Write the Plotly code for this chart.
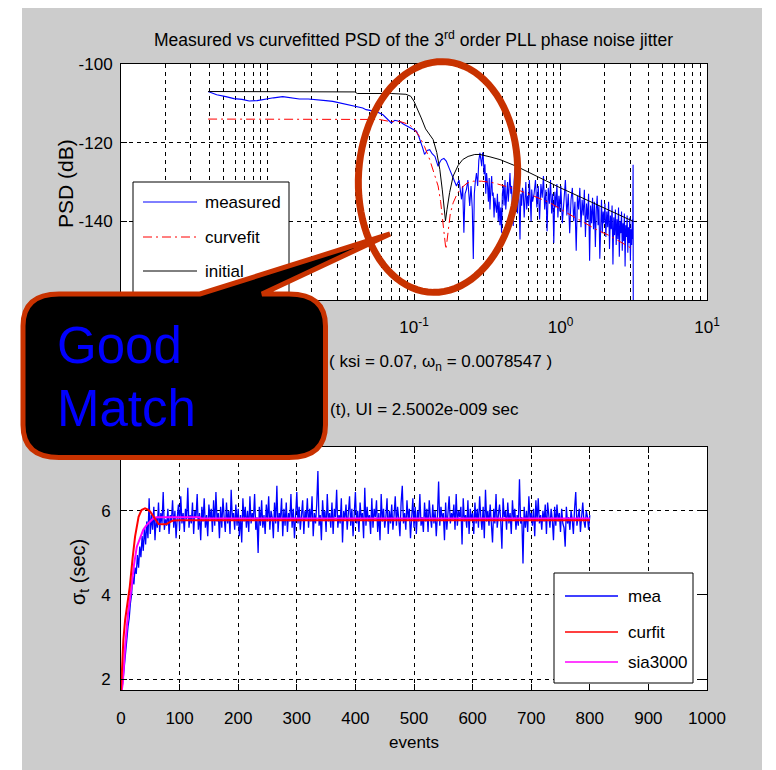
import math
import plotly.graph_objects as go

W, H = 776, 770          # reference canvas size
OX, OY = 8, 8            # page body margin offset
FW, FH = W - OX, H - OY  # figure size that fits the window
FONT = "Liberation Sans, Arial, sans-serif"
BIG = "Liberation Sans, Arial, sans-serif"

# ---------------- PSD (top plot) data ----------------
f_low = [0.00393, 0.0045, 0.0052, 0.0059, 0.0067, 0.0075, 0.0085, 0.0097, 0.011, 0.0127,
         0.0145, 0.0165, 0.019, 0.0215, 0.025, 0.0279, 0.032, 0.0363, 0.041, 0.0447,
         0.0471, 0.0552, 0.0614, 0.0647, 0.07, 0.074, 0.08, 0.085, 0.091, 0.097,
         0.104, 0.108]
psd_low = [-107.0, -107.8, -108.3, -108.8, -109.0, -109.4, -109.3, -108.9, -108.6, -108.3,
           -108.6, -108.9, -108.9, -109.0, -109.3, -109.5, -110.0, -110.4, -110.9, -111.2,
           -111.6, -112.1, -112.9, -113.7, -115.0, -114.3, -114.6, -115.3, -115.9, -116.3,
           -117.1, -118.5]

f_mid = [0.112, 0.115, 0.118, 0.123, 0.128, 0.133, 0.139, 0.146, 0.15, 0.154,
         0.16, 0.166, 0.175, 0.185, 0.195, 0.203, 0.211, 0.215, 0.219, 0.223,
         0.228, 0.233, 0.24, 0.245, 0.25, 0.254, 0.258, 0.262, 0.267, 0.272,
         0.277, 0.282, 0.286, 0.29, 0.294, 0.297, 0.301, 0.305, 0.309, 0.313,
         0.318, 0.322, 0.326, 0.33, 0.335, 0.339, 0.343, 0.347, 0.352, 0.356,
         0.361, 0.366, 0.371, 0.376, 0.381, 0.386, 0.391, 0.396, 0.401, 0.407,
         0.412, 0.418, 0.423, 0.429, 0.435, 0.44, 0.446, 0.452, 0.458, 0.464,
         0.47, 0.476, 0.482, 0.489, 0.495, 0.502, 0.508, 0.515, 0.522, 0.529,
         0.536, 0.543, 0.55, 0.557, 0.565, 0.572, 0.58, 0.588, 0.596, 0.605,
         0.613, 0.622, 0.63, 0.636, 0.645]
psd_mid = [-120.1, -121.5, -123.0, -122.0, -121.8, -122.8, -123.5, -126.0, -125.0, -124.3,
           -124.0, -124.7, -126.8, -129.0, -131.0, -129.5, -134.4, -131.0, -142.9, -133.0,
           -131.9, -129.5, -136.1, -131.0, -137.0, -149.6, -133.0, -130.0, -127.7, -131.0,
           -124.5, -122.6, -125.0, -126.0, -122.5, -123.5, -128.0, -125.5, -133.0, -127.7,
           -131.0, -135.0, -129.0, -137.0, -131.5, -128.5, -133.5, -132.7, -139.0, -134.0,
           -136.0, -137.8, -133.0, -140.0, -135.0, -141.0, -136.5, -142.9, -133.0, -131.0,
           -136.0, -129.5, -137.0, -134.4, -130.0, -135.0, -129.0, -127.7, -133.0, -131.0,
           -137.5, -141.2, -130.0, -126.5, -133.5, -131.0, -138.0, -129.5, -135.5, -144.6,
           -133.0, -136.0, -131.5, -132.7, -139.0, -134.0, -130.0, -137.0, -133.5, -136.1,
           -129.5, -134.5, -140.0, -131.9, -135.0]

f_high = [0.66, 0.675, 0.69, 0.705, 0.72, 0.735, 0.75, 0.765, 0.78, 0.795,
          0.81, 0.825, 0.84, 0.855, 0.87, 0.885, 0.9, 0.915, 0.93, 0.945,
          0.96, 0.975, 0.99,
          1.005, 1.03, 1.055, 1.08, 1.105, 1.13, 1.155, 1.18, 1.205, 1.23,
          1.255, 1.28, 1.305, 1.33, 1.355, 1.38, 1.405, 1.43, 1.455, 1.48,
          1.505, 1.53, 1.555, 1.58, 1.605, 1.63, 1.655, 1.68, 1.705, 1.73,
          1.755, 1.78, 1.805, 1.83, 1.855, 1.88, 1.905, 1.93, 1.955, 1.98,
          2.01, 2.04, 2.07, 2.1, 2.13, 2.16, 2.19, 2.22, 2.25, 2.28,
          2.31, 2.34, 2.37, 2.4, 2.43, 2.46, 2.49, 2.52, 2.55, 2.58,
          2.61, 2.64, 2.67, 2.7, 2.73, 2.76, 2.79, 2.82, 2.85, 2.88,
          2.91, 2.94, 2.97, 3.0, 3.03, 3.06, 3.09, 3.11, 3.13, 3.14]
psd_high = [-133.0, -129.5, -136.5, -131.0, -139.5, -130.5, -134.0, -128.5, -137.0, -132.0,
            -142.5, -131.5, -135.5, -129.5, -138.0, -133.0, -145.5, -132.5, -136.5, -130.5,
            -139.0, -133.5, -137.5,
            -131.0, -140.5, -134.0, -129.5, -138.5, -133.0, -143.0, -134.5, -131.5, -140.0,
            -135.0, -147.5, -133.5, -137.0, -131.5, -141.5, -134.5, -138.5, -132.0, -144.0,
            -135.5, -139.5, -133.0, -150.0, -136.0, -140.5, -134.0, -142.0, -135.0, -146.5,
            -137.0, -133.5, -141.0, -136.0, -149.5, -138.0, -134.5, -143.0, -137.5, -140.5,
            -135.5, -144.0, -137.5, -141.5, -135.0, -147.0, -138.5, -142.0, -136.0, -151.0,
            -139.0, -143.5, -137.0, -146.0, -139.5, -144.5, -136.5, -149.0, -140.0, -143.0,
            -137.5, -147.5, -140.5, -145.0, -138.0, -151.5, -141.0, -144.0, -138.5, -148.0,
            -141.5, -145.5, -139.0, -150.0, -142.0, -146.0, -139.5, -144.5, -125.6, -175.0]

f_meas = f_low + f_mid + f_high
psd_meas = psd_low + psd_mid + psd_high

f_fit = [0.00393, 0.01, 0.03, 0.058, 0.068, 0.08, 0.093, 0.1, 0.109, 0.118,
         0.128, 0.137, 0.146, 0.152, 0.158, 0.162, 0.165, 0.168, 0.171, 0.177,
         0.185, 0.197, 0.211, 0.23, 0.254, 0.29, 0.348, 0.42, 0.502, 0.65,
         0.85, 1.1, 1.43, 1.8, 2.18, 2.6, 3.13]
psd_fit = [-114.0, -114.0, -114.0, -114.1, -114.6, -114.6, -115.4, -116.5, -118.4, -121.0,
           -124.3, -127.5, -131.0, -135.0, -140.3, -144.0, -147.1, -145.0, -142.0, -138.0,
           -135.3, -133.0, -131.5, -130.3, -129.8, -129.8, -130.2, -131.0, -131.9, -133.5,
           -135.3, -137.8, -140.3, -142.3, -143.7, -145.3, -147.1]

f_init = [0.00393, 0.01, 0.02, 0.0395, 0.041, 0.07, 0.088, 0.095, 0.1, 0.106,
          0.112, 0.12, 0.128, 0.135, 0.143, 0.15, 0.156, 0.161, 0.164, 0.168,
          0.175, 0.185, 0.2, 0.215, 0.234, 0.26, 0.282, 0.33, 0.386, 0.5,
          0.62, 0.8, 1.0, 1.4, 1.87, 2.5, 3.13]
psd_init = [-107.0, -107.1, -107.1, -107.1, -107.5, -107.5, -107.7, -108.2, -109.5, -111.5,
            -113.7, -116.5, -118.0, -119.2, -122.5, -126.8, -132.0, -137.0, -139.9, -137.0,
            -132.7, -128.5, -125.8, -124.3, -123.5, -123.0, -123.0, -123.6, -124.3, -126.0,
            -127.7, -129.8, -131.5, -134.0, -136.1, -138.3, -140.0]

# ---------------- sigma_t (bottom plot) data, one value every 2 events ----------------
sig_mea = [1.70, 1.80, 2.05, 2.30, 2.60, 2.95, 3.25, 3.45, 3.80, 4.00, 4.45, 4.25, 4.65, 4.50, 4.95, 4.65, 5.15, 4.90, 5.40, 5.05,
           5.60, 5.20, 5.75, 5.35, 6.30, 5.45, 5.90, 5.55, 6.10, 5.30, 5.85, 5.60, 6.20, 5.50, 5.95, 5.70, 6.45, 5.55, 5.80, 5.65,
           6.05, 5.45, 5.90, 5.75, 6.25, 5.60, 6.00, 5.35, 5.85, 6.15, 5.55, 6.35, 5.70, 5.95, 5.50, 6.05, 5.80, 6.55, 5.60, 5.90,
           5.70, 6.20, 5.45, 6.00, 5.85, 6.40, 5.55, 5.95, 5.30, 6.10, 5.75, 6.30, 5.60, 5.90, 5.40, 6.15, 5.80, 6.05, 5.50, 6.25,
           5.65, 6.45, 5.75, 5.95, 5.35, 6.10, 5.60, 6.30, 5.85, 5.50, 6.20, 5.70, 6.00, 5.45, 6.50, 5.80, 5.95, 5.55, 6.15, 5.65,
           6.05, 5.40, 5.90, 5.25, 6.30, 5.75, 6.10, 5.60, 6.00, 5.50, 6.35, 5.70, 5.95, 5.80, 6.40, 5.55, 5.85, 5.00, 6.10, 5.65,
           6.25, 5.60, 5.90, 5.45, 6.15, 5.75, 6.35, 5.55, 6.00, 5.85, 5.35, 6.20, 5.70, 6.60, 5.50, 5.95, 5.80, 6.30, 5.40, 6.05,
           5.65, 6.20, 5.50, 5.95, 5.75, 6.40, 5.60, 6.05, 5.35, 5.90, 6.45, 5.70, 6.10, 5.55, 5.85, 6.25, 5.45, 6.00, 5.80, 6.30,
           5.60, 6.05, 5.75, 6.35, 5.40, 5.95, 5.70, 6.15, 6.95, 5.65, 5.90, 5.30, 6.25, 5.80, 6.00, 5.50, 6.40, 5.75, 5.95, 5.60,
           6.20, 5.45, 6.05, 5.85, 6.50, 5.60, 5.90, 5.70, 6.30, 5.25, 6.00, 5.80, 6.15, 5.55, 5.95, 6.35, 5.65, 6.05, 5.40, 5.85,
           6.45, 5.70, 6.00, 5.50, 6.20, 5.80, 5.95, 5.35, 6.55, 5.65, 6.10, 5.75, 5.90, 5.45, 6.30, 5.60, 6.05, 5.85, 6.25, 5.50,
           5.95, 5.30, 6.40, 5.75, 6.05, 5.60, 5.85, 6.30, 5.45, 6.00, 5.70, 6.15, 5.55, 5.90, 6.35, 5.65, 6.10, 5.80, 5.40, 6.20,
           6.60, 5.70, 5.95, 5.55, 6.25, 5.80, 6.05, 5.35, 5.90, 6.30, 5.60, 6.10, 5.45, 6.00, 5.75, 6.40, 5.65, 5.85, 5.50, 6.20,
           5.75, 6.05, 5.50, 6.25, 5.85, 5.60, 6.15, 5.70, 6.00, 5.40, 5.90, 6.70, 5.65, 6.10, 5.80, 5.95, 5.30, 6.20, 5.55, 6.05,
           6.35, 5.70, 5.95, 5.80, 6.15, 5.55, 6.40, 5.65, 6.00, 5.85, 6.10, 5.20, 6.30, 5.75, 5.90, 5.60, 6.25, 5.45, 6.05, 5.80,
           5.95, 5.45, 6.20, 5.70, 6.05, 5.60, 6.35, 5.85, 5.55, 6.10, 5.35, 6.50, 5.75, 6.00, 5.65, 6.15, 5.80, 5.25, 6.05, 5.70,
           6.40, 5.60, 5.90, 6.15, 5.75, 5.10, 6.30, 5.85, 6.00, 5.55, 6.20, 5.70, 5.95, 5.45, 6.25, 5.80, 6.05, 5.55, 5.90, 5.65,
           6.75, 5.70, 5.85, 4.75, 6.10, 5.60, 6.00, 5.50, 6.35, 5.80, 5.95, 5.65, 6.05, 5.40, 6.25, 5.75, 6.30, 5.70, 5.90, 5.55,
           6.00, 5.75, 6.15, 5.45, 6.20, 5.85, 5.60, 6.05, 5.80, 5.30, 6.10, 5.65, 6.15, 5.75, 5.95, 5.50, 6.05, 5.70, 5.60, 5.15,
           6.10, 5.70, 5.85, 5.55, 6.00, 5.80, 5.45, 6.05, 6.45, 5.65, 5.90, 6.05, 5.50, 5.95, 6.20, 5.75, 5.60, 6.00, 5.85, 5.55,
           5.90]
ev_mea = list(range(0, 2 * len(sig_mea), 2))

ev_fit = [0, 2, 4, 7, 10, 15, 20, 24, 30, 35, 41, 46, 50, 55, 58, 64, 72, 78, 84, 89, 100, 400, 800]
sig_fit = [1.70, 2.30, 2.93, 3.40, 3.72, 4.20, 4.90, 5.39, 5.86, 6.02, 6.06, 6.03, 5.98, 5.87,
           5.79, 5.69, 5.68, 5.69, 5.74, 5.77, 5.78, 5.78, 5.78]

ev_sia = [0, 3, 7, 12, 18, 22, 27, 32, 38, 44, 50, 55, 60, 135, 136, 800]
sig_sia = [1.60, 1.90, 2.77, 3.56, 4.20, 4.70, 5.15, 5.35, 5.55, 5.67, 5.75, 5.82, 5.85, 5.85,
           5.82, 5.82]

top_ticks = [0.001, 0.01, 0.1, 1, 10]
top_ticktext = ["", "10<sup>-2</sup>", "10<sup>-1</sup>", "10<sup>0</sup>", "10<sup>1</sup>"]
top_minor = [m * 10 ** e for e in range(-3, 1) for m in range(2, 10)]
psd_ticks = [-160, -140, -120, -100]
psd_ticktext = ["-160", "-140", "-120", "-100"]
ev_ticks = list(range(0, 1001, 100))
sig_ticks = [2, 4, 6]


def px(x):
    return (x - OX) / FW


def py(y):
    return 1 - (y - OY) / FH


def P(x, y):
    return f"{px(x):.5f},{py(y):.5f}"


fig = go.Figure()
fig.add_trace(go.Scatter(x=f_meas, y=psd_meas, mode="lines", line=dict(color="#0000FF", width=1.1),
                         xaxis="x", yaxis="y", showlegend=False))
fig.add_trace(go.Scatter(x=f_fit, y=psd_fit, mode="lines",
                         line=dict(color="#FF0000", width=1, dash="9px,4px,2px,4px"),
                         xaxis="x", yaxis="y", showlegend=False))
fig.add_trace(go.Scatter(x=f_init, y=psd_init, mode="lines", line=dict(color="#000000", width=1),
                         xaxis="x", yaxis="y", showlegend=False))

fig.add_trace(go.Scatter(x=ev_mea, y=sig_mea, mode="lines", line=dict(color="#0000FF", width=1.3),
                         xaxis="x2", yaxis="y2", showlegend=False))
fig.add_trace(go.Scatter(x=ev_sia, y=sig_sia, mode="lines", line=dict(color="#FF00FF", width=2),
                         xaxis="x2", yaxis="y2", showlegend=False))
fig.add_trace(go.Scatter(x=ev_fit, y=sig_fit, mode="lines", line=dict(color="#FF0000", width=2),
                         xaxis="x2", yaxis="y2", showlegend=False))

GRID = "4px,4px"
axis_common = dict(showline=True, linecolor="black", linewidth=1, mirror="ticks",
                   ticks="inside", ticklen=6, tickcolor="black", showgrid=True,
                   gridcolor="black", griddash=GRID, gridwidth=1, zeroline=False,
                   automargin=False,
                   tickfont=dict(family=FONT, size=17, color="black"))

fig.update_layout(
    width=FW, height=FH, margin=dict(l=0, r=0, t=0, b=0, pad=0, autoexpand=False),
    paper_bgcolor="#CCCCCC", plot_bgcolor="white",
    xaxis=dict(type="log", range=[-3, 1], domain=[px(121), px(707)], anchor="y",
               tickmode="array", tickvals=top_ticks, ticktext=top_ticktext,
               ticklabelstandoff=12,
               minor=dict(tickmode="array", tickvals=top_minor, ticks="inside", ticklen=4,
                          tickcolor="black", showgrid=True, gridcolor="black",
                          griddash=GRID, gridwidth=1),
               **axis_common),
    yaxis=dict(range=[-160, -100], domain=[py(300), py(64)], anchor="x",
               tickmode="array", tickvals=psd_ticks, ticktext=psd_ticktext,
               ticklabelstandoff=4, **axis_common),
    xaxis2=dict(range=[0, 1000], domain=[px(121), px(707)], anchor="y2",
                tickmode="array", tickvals=ev_ticks, ticklabelstandoff=13, **axis_common),
    yaxis2=dict(range=[1.74, 7.52], domain=[py(690), py(447)], anchor="x2",
                tickmode="array", tickvals=sig_ticks, ticklabelstandoff=6, **axis_common),
)

shapes = []
# white outer frame strips
for x0, y0, x1, y1 in [(0, 0, 22, 770), (0, 0, 776, 5), (762, 0, 776, 770)]:
    shapes.append(dict(type="rect", xref="paper", yref="paper", x0=px(x0), y0=py(y1),
                       x1=px(x1), y1=py(y0), fillcolor="white", line=dict(width=0), layer="below"))

# top legend
shapes.append(dict(type="rect", xref="paper", yref="paper", x0=px(133), y0=py(312), x1=px(289),
                   y1=py(182), fillcolor="white", line=dict(color="black", width=1), layer="above"))
for yy, col, dash in [(202, "#0000FF", "solid"), (237, "#FF0000", "9px,4px,2px,4px"), (271, "black", "solid")]:
    shapes.append(dict(type="line", xref="paper", yref="paper", x0=px(143), x1=px(197), y0=py(yy),
                       y1=py(yy), line=dict(color=col, width=1, dash=dash), layer="above"))

# bottom legend
shapes.append(dict(type="rect", xref="paper", yref="paper", x0=px(554), y0=py(683), x1=px(693),
                   y1=py(573), fillcolor="white", line=dict(color="black", width=1), layer="above"))
for yy, col in [(596, "#0000FF"), (632, "#FF0000"), (662, "#FF00FF")]:
    shapes.append(dict(type="line", xref="paper", yref="paper", x0=px(565), x1=px(618), y0=py(yy),
                       y1=py(yy), line=dict(color=col, width=1.5), layer="above"))


# ellipse highlight
def ellipse_path(cx, cy, a, b, deg, n=90):
    t = math.radians(deg)
    pts = []
    for i in range(n):
        phi = 2 * math.pi * i / n
        x, y = a * math.cos(phi), b * math.sin(phi)
        X = cx + x * math.cos(t) - y * math.sin(t)
        Y = cy + x * math.sin(t) + y * math.cos(t)
        pts.append(P(X, Y))
    return "M " + " L ".join(pts) + " Z"


ORANGE = "#C83200"
shapes.append(dict(type="path", xref="paper", yref="paper", path=ellipse_path(438, 177, 79.5, 115.5, 3.7),
                   line=dict(color=ORANGE, width=7), fillcolor="rgba(0,0,0,0)", layer="above"))

# callout bubble
callout = (f"M {P(59, 294)} L {P(200, 294)} L {P(390, 234)} L {P(262, 294)} L {P(289, 294)} "
           f"Q {P(325.5, 294)} {P(325.5, 326)} L {P(325.5, 425)} Q {P(325.5, 457.5)} {P(289, 457.5)} "
           f"L {P(59, 457.5)} Q {P(23, 457.5)} {P(23, 425)} L {P(23, 326)} Q {P(23, 294)} {P(59, 294)} Z")
shapes.append(dict(type="path", xref="paper", yref="paper", path=callout,
                   line=dict(color=ORANGE, width=5), fillcolor="black", layer="above"))

fig.update_layout(shapes=shapes)

ann = []


def A(text, x, y, size=17, xanchor="center", color="black", family=FONT, angle=0):
    ann.append(dict(text=text, x=px(x), y=py(y), xref="paper", yref="paper", showarrow=False,
                    xanchor=xanchor, yanchor="middle", textangle=angle,
                    font=dict(family=family, size=size, color=color)))


A("Measured vs curvefitted PSD of the 3<sup>rd</sup> order PLL phase noise jitter", 413, 39, size=17.5)
A("PSD (dB)", 65, 184, size=21, angle=-90)
A("( ksi = 0.07, ω<sub>n</sub> = 0.0078547 )", 327, 363, size=17, xanchor="left")
A("(t), UI = 2.5002e-009 sec", 328, 410, size=17, xanchor="left")
A("σ<sub>t</sub> (sec)", 79, 572, size=20, angle=-90)
A("events", 414, 742, size=17)
A("measured", 203, 202, size=17, xanchor="left")
A("curvefit", 203, 237, size=17, xanchor="left")
A("initial", 203, 271, size=17, xanchor="left")
A("mea", 626, 596, size=17, xanchor="left")
A("curfit", 626, 632, size=17, xanchor="left")
A("sia3000", 626, 662, size=17, xanchor="left")
A("Good", 55, 345, size=51, xanchor="left", color="#0000FF", family=BIG)
A("Match", 55, 408, size=51, xanchor="left", color="#0000FF", family=BIG)
fig.update_layout(annotations=ann)

fig.write_html("out.html")
